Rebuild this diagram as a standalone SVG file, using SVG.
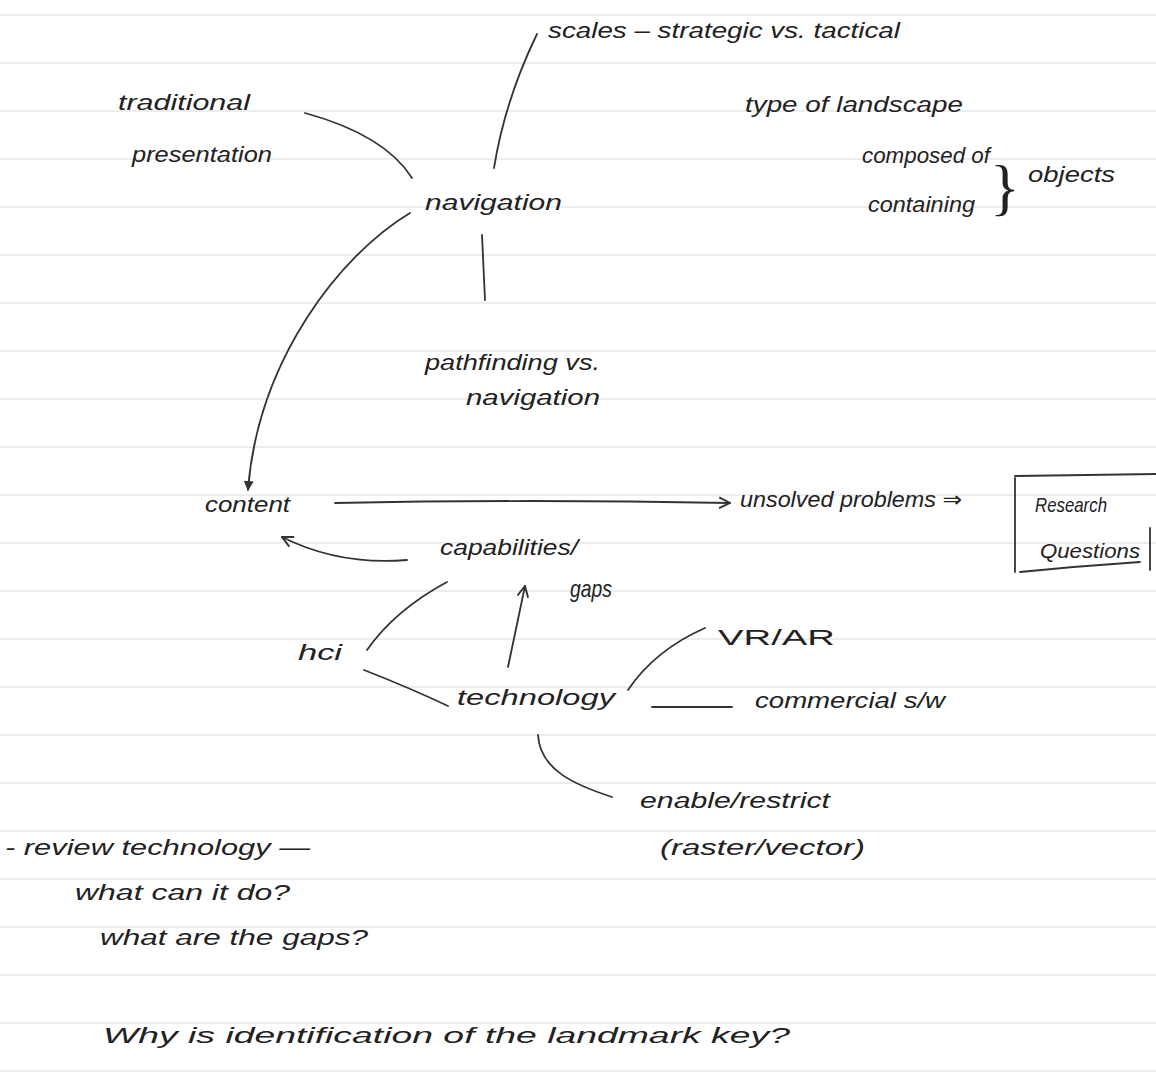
<svg xmlns="http://www.w3.org/2000/svg" width="1156" height="1086" viewBox="0 0 1156 1086">
<defs>
<style>
.rule{stroke:#ededed;stroke-width:2}
text{font-family:"Liberation Sans","DejaVu Sans",sans-serif;font-style:italic;font-size:22px;fill:#222}
.c{fill:none;stroke:#333;stroke-width:1.8;stroke-linecap:round}
</style>
<marker id="tri" viewBox="0 0 10 10" refX="9" refY="5" markerWidth="10" markerHeight="10" orient="auto-start-reverse" markerUnits="userSpaceOnUse">
<path d="M0,0 L10,5 L0,10 z" fill="#333"/>
</marker>
<marker id="open" viewBox="0 0 12 12" refX="11" refY="6" markerWidth="13" markerHeight="13" orient="auto" markerUnits="userSpaceOnUse">
<path d="M1,1 L11,6 L1,11" fill="none" stroke="#333" stroke-width="1.8"/>
</marker>
</defs>
<rect width="1156" height="1086" fill="#ffffff"/>
<g id="paper">
<line class="rule" x1="0" y1="15" x2="1156" y2="15"/>
<line class="rule" x1="0" y1="63" x2="1156" y2="63"/>
<line class="rule" x1="0" y1="111" x2="1156" y2="111"/>
<line class="rule" x1="0" y1="159" x2="1156" y2="159"/>
<line class="rule" x1="0" y1="207" x2="1156" y2="207"/>
<line class="rule" x1="0" y1="255" x2="1156" y2="255"/>
<line class="rule" x1="0" y1="303" x2="1156" y2="303"/>
<line class="rule" x1="0" y1="351" x2="1156" y2="351"/>
<line class="rule" x1="0" y1="399" x2="1156" y2="399"/>
<line class="rule" x1="0" y1="447" x2="1156" y2="447"/>
<line class="rule" x1="0" y1="495" x2="1156" y2="495"/>
<line class="rule" x1="0" y1="543" x2="1156" y2="543"/>
<line class="rule" x1="0" y1="591" x2="1156" y2="591"/>
<line class="rule" x1="0" y1="639" x2="1156" y2="639"/>
<line class="rule" x1="0" y1="687" x2="1156" y2="687"/>
<line class="rule" x1="0" y1="735" x2="1156" y2="735"/>
<line class="rule" x1="0" y1="783" x2="1156" y2="783"/>
<line class="rule" x1="0" y1="831" x2="1156" y2="831"/>
<line class="rule" x1="0" y1="879" x2="1156" y2="879"/>
<line class="rule" x1="0" y1="927" x2="1156" y2="927"/>
<line class="rule" x1="0" y1="975" x2="1156" y2="975"/>
<line class="rule" x1="0" y1="1023" x2="1156" y2="1023"/>
<line class="rule" x1="0" y1="1071" x2="1156" y2="1071"/>
</g>
<g id="connectors">
<path class="c" d="M537,34 Q505,100 494,168"/>
<path class="c" d="M305,113 Q385,135 412,178"/>
<path class="c" d="M410,213 C340,255 258,360 248,490" marker-end="url(#tri)"/>
<path class="c" d="M482,235 L485,300"/>
<path class="c" d="M335,503 Q530,499 730,503" marker-end="url(#open)"/>
<path class="c" d="M407,560 C360,564 320,556 282,537" marker-end="url(#open)"/>
<path class="c" d="M367,650 Q395,610 447,582"/>
<path class="c" d="M364,670 Q410,688 448,706"/>
<path class="c" d="M508,667 L525,586" marker-end="url(#open)"/>
<path class="c" d="M628,690 Q655,650 705,628"/>
<path class="c" d="M652,707 L732,707"/>
<path class="c" d="M538,735 C540,770 575,785 612,797"/>
</g>
<g id="scales"><text x="548" y="38" textLength="352" lengthAdjust="spacingAndGlyphs">scales – strategic vs. tactical</text></g>
<g id="traditional"><text x="118" y="110" textLength="132" lengthAdjust="spacingAndGlyphs">traditional</text><text x="132" y="162" textLength="140" lengthAdjust="spacingAndGlyphs">presentation</text></g>
<g id="navigation"><text x="425" y="210" textLength="137" lengthAdjust="spacingAndGlyphs">navigation</text></g>
<g id="landscape"><text x="745" y="112" textLength="218" lengthAdjust="spacingAndGlyphs">type of landscape</text>
<text x="862" y="163" textLength="128" lengthAdjust="spacingAndGlyphs">composed of</text>
<text x="868" y="212" textLength="107" lengthAdjust="spacingAndGlyphs">containing</text>
<text x="990" y="208" style="font-size:62px;font-style:normal;font-family:'Liberation Serif',serif">}</text>
<text x="1028" y="182" textLength="87" lengthAdjust="spacingAndGlyphs">objects</text></g>
<g id="pathfinding"><text x="425" y="370" textLength="175" lengthAdjust="spacingAndGlyphs">pathfinding vs.</text><text x="466" y="405" textLength="134" lengthAdjust="spacingAndGlyphs">navigation</text></g>
<g id="content"><text x="205" y="512" textLength="85" lengthAdjust="spacingAndGlyphs">content</text></g>
<g id="unsolved"><text x="740" y="507" textLength="222" lengthAdjust="spacingAndGlyphs">unsolved problems ⇒</text></g>
<g id="research">
<path class="c" d="M1015,478 L1015,572 M1015,476 L1156,474 M1020,572 Q1080,566 1140,562 M1150,528 L1150,570"/>
<text x="1035" y="512" textLength="72" lengthAdjust="spacingAndGlyphs" style="font-size:21px">Research</text>
<text x="1040" y="558" textLength="100" lengthAdjust="spacingAndGlyphs" style="font-size:21px">Questions</text></g>
<g id="capabilities"><text x="440" y="555" textLength="138" lengthAdjust="spacingAndGlyphs">capabilities/</text><text x="570" y="597" textLength="42" lengthAdjust="spacingAndGlyphs" style="font-size:24px">gaps</text></g>
<g id="hci"><text x="298" y="660" textLength="44" lengthAdjust="spacingAndGlyphs">hci</text></g>
<g id="technology"><text x="457" y="705" textLength="158" lengthAdjust="spacingAndGlyphs">technology</text></g>
<g id="vrar"><text x="718" y="645" textLength="117" lengthAdjust="spacingAndGlyphs" style="font-style:normal">VR/AR</text></g>
<g id="commercial"><text x="755" y="708" textLength="190" lengthAdjust="spacingAndGlyphs">commercial s/w</text></g>
<g id="enable"><text x="640" y="808" textLength="190" lengthAdjust="spacingAndGlyphs">enable/restrict</text><text x="660" y="855" textLength="205" lengthAdjust="spacingAndGlyphs">(raster/vector)</text></g>
<g id="notes">
<text x="5" y="855" textLength="305" lengthAdjust="spacingAndGlyphs">- review technology —</text>
<text x="75" y="900" textLength="215" lengthAdjust="spacingAndGlyphs">what can it do?</text>
<text x="100" y="945" textLength="268" lengthAdjust="spacingAndGlyphs">what are the gaps?</text>
<text x="103" y="1043" textLength="687" lengthAdjust="spacingAndGlyphs">Why is identification of the landmark key?</text>
</g>
</svg>
